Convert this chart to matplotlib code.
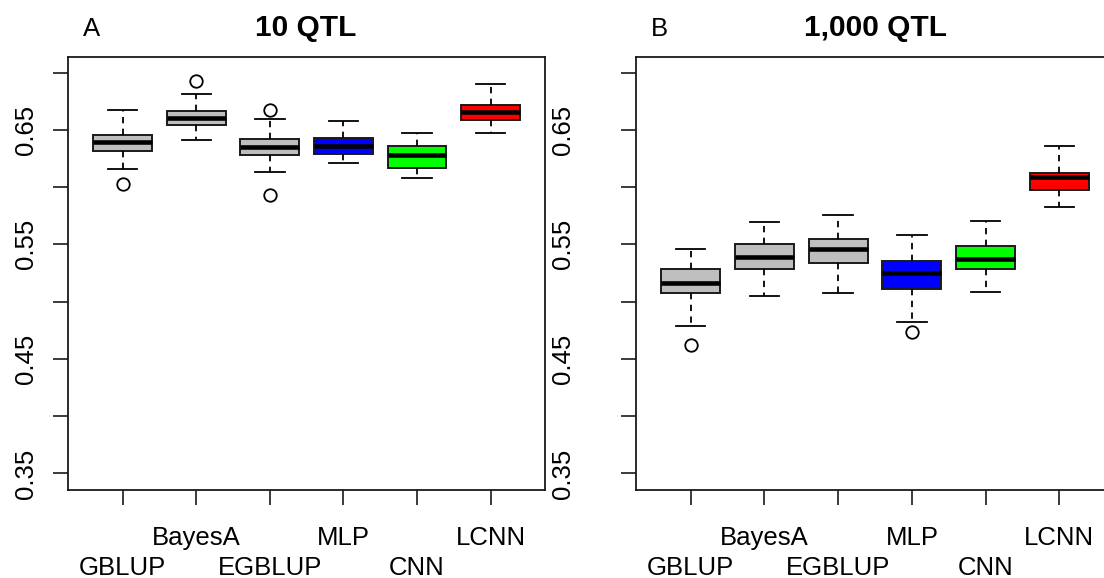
import matplotlib
matplotlib.use("Agg")
import matplotlib.pyplot as plt
from matplotlib.transforms import blended_transform_factory

plt.rcParams['font.family'] = ['Liberation Sans', 'DejaVu Sans']

methods = ["GBLUP", "BayesA", "EGBLUP", "MLP", "CNN", "LCNN"]
box_colors = ["#BEBEBE", "#BEBEBE", "#BEBEBE", "#0000FF", "#00FF00", "#FF0000"]

# A: 10 QTL
a_whislo = [0.616, 0.641, 0.613, 0.621, 0.608, 0.647]
a_q1 = [0.6315, 0.654, 0.628, 0.6286, 0.617, 0.659]
a_med = [0.639, 0.6607, 0.6346, 0.6358, 0.6277, 0.6657]
a_q3 = [0.6457, 0.6662, 0.6416, 0.643, 0.6355, 0.6717]
a_whishi = [0.6671, 0.6816, 0.6598, 0.6575, 0.6468, 0.6897]
a_fliers = [[0.6028], [0.6926], [0.6671, 0.5935], [], [], []]

# B: 1,000 QTL
b_whislo = [0.4787, 0.5048, 0.5074, 0.4825, 0.5085, 0.5828]
b_q1 = [0.5074, 0.5289, 0.5335, 0.5114, 0.5285, 0.5972]
b_med = [0.5167, 0.5387, 0.5457, 0.5251, 0.5376, 0.6085]
b_q3 = [0.5285, 0.5503, 0.5543, 0.5352, 0.5489, 0.6126]
b_whishi = [0.5459, 0.5697, 0.5752, 0.5578, 0.5703, 0.6355]
b_fliers = [[0.4625], [], [], [0.4735], [], []]

ytick_vals = [0.35, 0.40, 0.45, 0.50, 0.55, 0.60, 0.65, 0.70]
ytick_text = ["0.35", "", "0.45", "", "0.55", "", "0.65", ""]

W, H = 1104, 578
fig = plt.figure(figsize=(W / 100, H / 100), dpi=100)


def px_axes(x0, x1, y0, y1):
    return fig.add_axes([x0 / W, 1 - y1 / H, (x1 - x0) / W, (y1 - y0) / H])


def draw_panel(ax, lo, q1, med, q3, hi, fliers, ylab_x):
    stats = []
    for i in range(len(methods)):
        stats.append(dict(whislo=lo[i], q1=q1[i], med=med[i], q3=q3[i],
                          whishi=hi[i], fliers=fliers[i], label=methods[i]))
    bp = ax.bxp(stats, positions=range(1, len(methods) + 1), widths=0.8,
                patch_artist=True, showfliers=True,
                boxprops=dict(edgecolor='#1a1a1a', linewidth=1.4),
                medianprops=dict(color='black', linewidth=3.3, solid_capstyle='butt'),
                whiskerprops=dict(color='black', linewidth=1.3, linestyle=(0, (3.5, 3))),
                capprops=dict(color='black', linewidth=1.3),
                flierprops=dict(marker='o', markerfacecolor='none',
                                markeredgecolor='black', markersize=9,
                                markeredgewidth=1.3))
    for patch, c in zip(bp['boxes'], box_colors):
        patch.set_facecolor(c)

    ax.set_xlim(0.26, 6.74)
    ax.set_ylim(0.336, 0.714)
    ax.set_xticks(range(1, len(methods) + 1))
    ax.set_xticklabels([])
    ax.set_yticks(ytick_vals)
    ax.set_yticklabels([])
    ax.tick_params(length=10.8, width=1.2, direction='out', color='#1a1a1a')
    for s in ax.spines.values():
        s.set_linewidth(1.3)
        s.set_color('#1a1a1a')

    tx = blended_transform_factory(ax.transData, ax.transAxes)
    for i, name in enumerate(methods):
        yy = -0.197 if i % 2 == 0 else -0.128
        ax.text(i + 1, yy, name, transform=tx, ha='center', va='baseline',
                fontsize=18.5)
    ty = blended_transform_factory(ax.transAxes, ax.transData)
    for v, t in zip(ytick_vals, ytick_text):
        if t:
            ax.text(ylab_x, v, t, transform=ty, rotation=90,
                    rotation_mode='anchor', ha='center', va='baseline',
                    fontsize=18.5)


ax1 = px_axes(68.3, 545, 56.5, 489.5)
draw_panel(ax1, a_whislo, a_q1, a_med, a_q3, a_whishi, a_fliers, -0.074)
ax2 = px_axes(636, 1114, 56.5, 489.5)
draw_panel(ax2, b_whislo, b_q1, b_med, b_q3, b_whishi, b_fliers, -0.138)

fig.text(92 / W, 1 - 35.5 / H, "A", ha='center', va='baseline', fontsize=18.5)
fig.text(306 / W, 1 - 35.5 / H, "10 QTL", ha='center', va='baseline',
         fontsize=21.5, fontweight='bold')
fig.text(659 / W, 1 - 35.5 / H, "B", ha='center', va='baseline', fontsize=18.5)
fig.text(875 / W, 1 - 35.5 / H, "1,000 QTL", ha='center', va='baseline',
         fontsize=21.5, fontweight='bold')

fig.savefig("out.png", dpi=100)
